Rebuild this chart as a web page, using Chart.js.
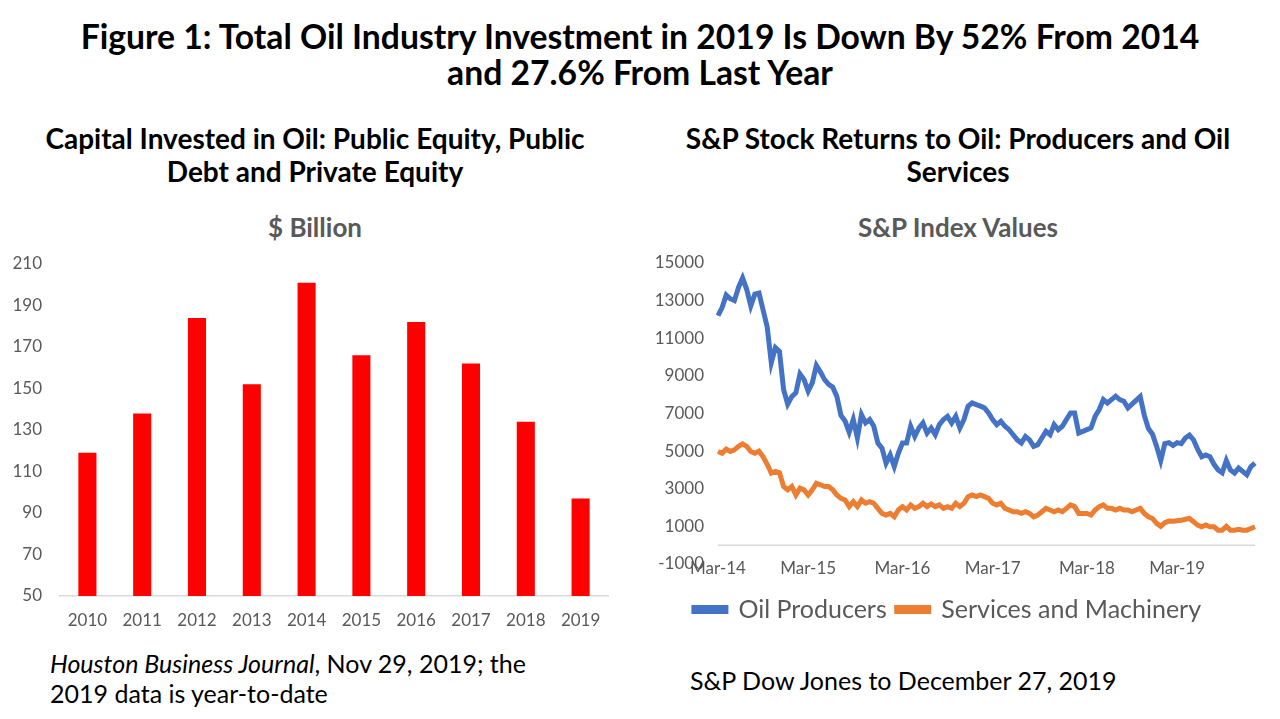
<!DOCTYPE html>
<html>
<head>
<meta charset="utf-8">
<script src="https://cdn.jsdelivr.net/npm/chart.js@4.4.1/dist/chart.umd.min.js"></script>
<style>
  body { margin:0; width:1280px; height:719px; background:#fff; position:relative; overflow:hidden;
         font-family: Lato, "Open Sans", sans-serif; }
  .t { position:absolute; white-space:nowrap; }
  .c { text-align:center; }
  #main { left:0; width:1280px; top:18px; font-size:33.7px; line-height:36px; font-weight:bold; }
  .sub { top:122px; font-size:28px; line-height:33px; font-weight:bold; }
  .ctitle { top:212px; font-size:26px; line-height:30px; font-weight:bold; color:#595959; }
  .note { font-size:25px; line-height:30px; }
</style>
</head>
<body>
<div class="t c" id="main">Figure 1: Total Oil Industry Investment in 2019 Is Down By 52% From 2014<br>and 27.6% From Last Year</div>

<div class="t c sub" style="left:0;width:630px">Capital Invested in Oil: Public Equity, Public<br>Debt and Private Equity</div>
<div class="t c sub" style="left:640px;width:636px">S&amp;P Stock Returns to Oil: Producers and Oil<br>Services</div>

<div class="t c ctitle" style="left:0;width:630px">$ Billion</div>
<div class="t c ctitle" style="left:640px;width:636px">S&amp;P Index Values</div>

<div style="position:absolute;left:0;top:250px;width:625px;height:395px"><canvas id="bars"></canvas></div>
<div style="position:absolute;left:640px;top:250px;width:640px;height:382px"><canvas id="lines"></canvas></div>

<div class="t note" style="left:50px;top:648px"><i>Houston Business Journal</i>, Nov 29, 2019; the<br>2019 data is year-to-date</div>
<div class="t note" style="left:690px;top:665px">S&amp;P Dow Jones to December 27, 2019</div>

<script>
// left chart: capital invested, $ billion
var years = ['2010', '2011', '2012', '2013', '2014', '2015', '2016', '2017', '2018', '2019'];
var investment = [119, 138, 184, 152, 201, 166, 182, 162, 134, 97];

// right chart: S&P index values, roughly every two weeks from Mar-14 to Dec-19
var producers = [
  12200, 12630, 13300, 13100, 13000, 13700, 14200, 13600, 12720, 13350,
  13400, 12500, 11600, 9700, 10500, 10300, 8280, 7500, 7900, 8100,
  9100, 8800, 8190, 8630, 9550, 9200, 8800, 8550, 8400, 7900,
  6900, 6600, 6000, 6680, 5700, 6940, 6500, 6680, 6320, 5430,
  5160, 4360, 4800, 4180, 4890, 5430, 5430, 6320, 5780, 6230,
  6500, 5960, 6230, 5870, 6410, 6680, 6850, 6500, 6850, 6230,
  6680, 7390, 7560, 7470, 7390, 7300, 7030, 6680, 6410, 6590,
  6320, 6140, 5870, 5600, 5430, 5780, 5600, 5250, 5340, 5700,
  6050, 5870, 6410, 6140, 6320, 6680, 7030, 7030, 5960, 6050,
  6140, 6230, 6850, 7210, 7740, 7560, 7740, 7920, 7740, 7650,
  7300, 7500, 7700, 7900, 6900, 6200, 5900, 5250, 4500, 5400,
  5450, 5300, 5450, 5400, 5700, 5850, 5600, 5100, 4700, 4800,
  4700, 4300, 4000, 3850, 4500, 4000, 3830, 4100, 3920, 3740,
  4180, 4360
];
var services = [
  4980, 4890, 5110, 4980, 5070, 5250, 5380, 5250, 4980, 4890,
  5000, 4700, 4300, 3830, 3920, 3850, 3120, 2940, 3120, 2670,
  3030, 2940, 2670, 2940, 3290, 3210, 3120, 3120, 2940, 2670,
  2490, 2400, 2050, 2310, 2050, 2400, 2230, 2310, 2230, 1960,
  1690, 1600, 1690, 1510, 1870, 2050, 1870, 2140, 1960, 2050,
  2230, 2050, 2190, 2050, 2140, 1960, 2050, 1960, 2230, 2050,
  2230, 2580, 2670, 2580, 2670, 2580, 2490, 2230, 2140, 2230,
  1960, 1870, 1780, 1780, 1690, 1780, 1690, 1510, 1600, 1780,
  1960, 1870, 1780, 1870, 1780, 1960, 2140, 2050, 1690, 1690,
  1690, 1600, 1870, 2050, 2140, 1960, 1960, 1870, 1960, 1870,
  1870, 1780, 1870, 1960, 1690, 1510, 1420, 1160, 1000, 1200,
  1280, 1270, 1300, 1320, 1380, 1420, 1250, 1070, 980, 1070,
  980, 980, 800, 800, 1000, 800, 800, 840, 800, 800,
  890, 980
];
var xTickLabels = ['Mar-14', 'Mar-15', 'Mar-16', 'Mar-17', 'Mar-18', 'Mar-19'];
var xTickIndex = [0, 22, 45, 67, 90, 112];

var grey = '#595959';
var axisGrey = '#d9d9d9';
var tickFont = { family: 'Lato', size: 17 };

var pointLabels = producers.map(function(v, i) {
  var k = xTickIndex.indexOf(i);
  return k >= 0 ? xTickLabels[k] : '';
});

// tick padding also pads the top of a vertical axis; keep only the layout padding
function fixYAxis(width) {
  return function(s) { s.width = width; s.paddingTop = 0; s.paddingBottom = 0; };
}

new Chart(document.getElementById('bars'), {
  type: 'bar',
  data: {
    labels: years,
    datasets: [{ data: investment, backgroundColor: '#ff0000', barPercentage: 0.33, categoryPercentage: 1 }]
  },
  options: {
    responsive: true,
    maintainAspectRatio: false,
    animation: false,
    layout: { padding: { top: 14, right: 17, left: 0, bottom: 0 } },
    plugins: { legend: { display: false }, tooltip: { enabled: false } },
    scales: {
      x: {
        grid: { display: false, drawTicks: false },
        border: { display: true, color: axisGrey, width: 1.5 },
        ticks: { color: grey, font: tickFont, padding: 14, maxRotation: 0 },
        afterFit: function(s) { s.height = 49; }
      },
      y: {
        min: 50, max: 210,
        grid: { display: false, drawTicks: false },
        border: { display: false },
        ticks: { stepSize: 20, color: grey, font: tickFont, padding: 18 },
        afterFit: fixYAxis(60)
      }
    }
  }
});

// Excel puts the category axis line at zero, not at the bottom of the value range
var zeroLine = {
  id: 'zeroLine',
  beforeDatasetsDraw: function(chart) {
    var a = chart.chartArea, y = chart.scales.y.getPixelForValue(0), ctx = chart.ctx;
    ctx.save();
    ctx.strokeStyle = axisGrey;
    ctx.lineWidth = 1.5;
    ctx.beginPath();
    ctx.moveTo(a.left, y);
    ctx.lineTo(a.right, y);
    ctx.stroke();
    ctx.restore();
  }
};

new Chart(document.getElementById('lines'), {
  type: 'line',
  data: {
    labels: pointLabels,
    datasets: [
      { label: 'Oil Producers', data: producers, borderColor: '#4472c4', backgroundColor: '#4472c4',
        borderWidth: 5, pointRadius: 0, tension: 0 },
      { label: 'Services and Machinery', data: services, borderColor: '#ed7d31', backgroundColor: '#ed7d31',
        borderWidth: 5, pointRadius: 0, tension: 0 }
    ]
  },
  plugins: [zeroLine],
  options: {
    responsive: true,
    maintainAspectRatio: false,
    animation: false,
    layout: { padding: { top: 13, right: 25, left: 0, bottom: 0 } },
    plugins: {
      tooltip: { enabled: false },
      legend: {
        position: 'bottom',
        labels: { color: grey, font: { family: 'Lato', size: 25 }, boxWidth: 32, boxHeight: 4, padding: 10 }
      }
    },
    scales: {
      // labels hang just under the -1000 line and overlap it, as in the original
      x: {
        position: { y: -1000 },
        grid: { display: false, drawTicks: false },
        border: { display: false },
        ticks: { color: grey, font: tickFont, padding: -6, autoSkip: false, maxRotation: 0 }
      },
      // empty axis that only keeps room between the plot and the legend
      gap: {
        type: 'category',
        position: 'bottom',
        grid: { display: false, drawTicks: false },
        border: { display: false },
        ticks: { display: false },
        afterFit: function(s) { s.height = 23; }
      },
      y: {
        min: -1000, max: 15000,
        grid: { display: false, drawTicks: false },
        border: { display: false },
        ticks: { stepSize: 2000, color: grey, font: tickFont, padding: 14,
                 callback: function(v) { return String(v); } },
        afterFit: fixYAxis(78)
      }
    }
  }
});
</script>
</body>
</html>
